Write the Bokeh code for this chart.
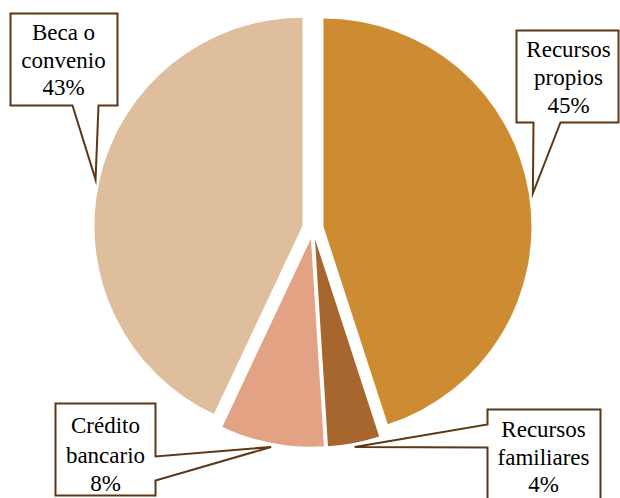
import math
from bokeh.plotting import figure
from bokeh.models import Range1d
from bokeh.core.properties import value
from bokeh.embed import file_html
from bokeh.resources import INLINE

# ---- data ----
categories = ["Recursos propios", "Recursos familiares", "Crédito bancario", "Beca o convenio"]
label_lines = [["Recursos", "propios"], ["Recursos", "familiares"], ["Crédito", "bancario"], ["Beca o", "convenio"]]
percents = [45, 4, 8, 43]
colors = ["#CE8C32", "#A8662F", "#E3A284", "#DFBE9D"]

# ---- layout (screen pixel coordinates, y down) ----
W, H = 620, 498
CX, CY = 312.4, 227.7
R = 208
EXPLODE = 10.7
BORDER = "#5E3714"
FONT = "Liberation Serif"
FS = "23px"
TEXT_SHIFT = -8  # renderer places alphabetic baseline lower than requested

def sy(y):
    return H - y

p = figure(width=W, height=H, output_backend="svg", toolbar_location=None,
           x_range=Range1d(0, W), y_range=Range1d(0, H), min_border=0)
p.axis.visible = False
p.grid.visible = False
p.outline_line_color = None
p.background_fill_color = "white"

total = float(sum(percents))
cum = 0.0
apexes, bisectors = [], []
for v, c in zip(percents, colors):
    a0 = math.pi / 2 - 2 * math.pi * cum / total
    cum += v
    a1 = math.pi / 2 - 2 * math.pi * cum / total
    mid = (a0 + a1) / 2
    ax = CX + EXPLODE * math.cos(mid)
    ay = sy(CY) + EXPLODE * math.sin(mid)
    apexes.append((ax, ay))
    bisectors.append(mid)
    p.wedge(x=ax, y=ay, radius=R, start_angle=a1, end_angle=a0,
            fill_color=c, line_color=None)

def tip(i, extra=4):
    ax, ay = apexes[i]
    m = bisectors[i]
    return ax + (R + extra) * math.cos(m), ay + (R + extra) * math.sin(m)

boxes = [
    dict(box=(516, 30, 618, 122), side="bottom", base=(533, 560), tx=568, base_y=[57, 85, 113]),
    dict(box=(487, 409, 600, 512), side="left", base=(424, 447), tx=543, base_y=[437, 465, 492]),
    dict(box=(55, 403, 155, 495), side="right", base=(456, 480), tx=105, base_y=[433, 463, 491]),
    dict(box=(10, 13, 117, 105), side="bottom", base=(72, 98), tx=63, base_y=[40, 68, 95]),
]

for i, b in enumerate(boxes):
    l, t, r, btm = b["box"]
    tx_, ty_ = tip(i)
    b0, b1 = b["base"]
    if b["side"] == "bottom":
        pts = [(l, sy(t)), (r, sy(t)), (r, sy(btm)), (b1, sy(btm)), (tx_, ty_), (b0, sy(btm)), (l, sy(btm))]
    elif b["side"] == "left":
        pts = [(l, sy(t)), (r, sy(t)), (r, sy(btm)), (l, sy(btm)), (l, sy(b1)), (tx_, ty_), (l, sy(b0))]
    else:
        pts = [(l, sy(t)), (r, sy(t)), (r, sy(b0)), (tx_, ty_), (r, sy(b1)), (r, sy(btm)), (l, sy(btm))]
    p.patch(x=[q[0] for q in pts], y=[q[1] for q in pts], fill_color="white",
            line_color=BORDER, line_width=2, line_join="miter")
    lines = label_lines[i] + [f"{percents[i]}%"]
    p.text(x=[b["tx"]] * 3, y=[sy(yy + TEXT_SHIFT) for yy in b["base_y"]], text=lines,
           text_align="center", text_baseline="alphabetic",
           text_font=value(FONT), text_font_size=FS, text_color="black")

open("out.html", "w").write(file_html(p, INLINE))
